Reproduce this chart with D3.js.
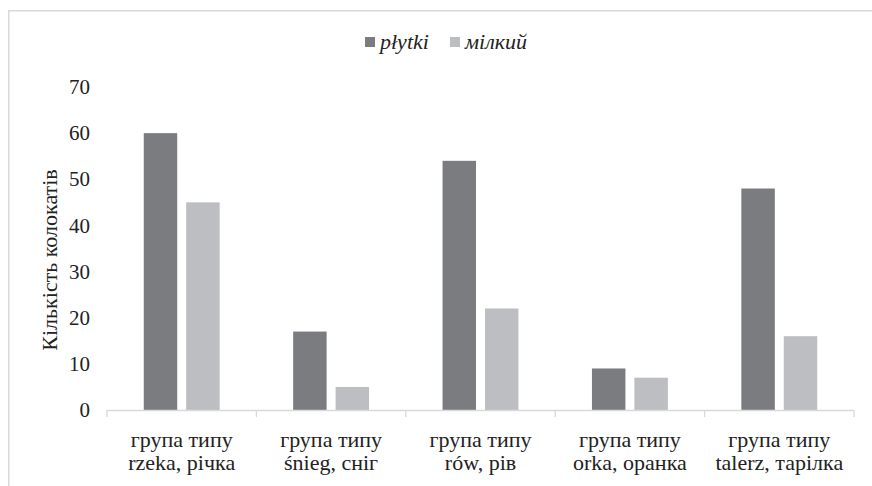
<!DOCTYPE html>
<html><head><meta charset="utf-8"><script src="https://cdn.jsdelivr.net/npm/d3@7"></script></head>
<body style="margin:0">
<svg id="chart" width="872" height="486"></svg>
<script>
// Collocate counts per word group, for the Polish and Ukrainian adjective
const groupsLine1 = ["група типу", "група типу", "група типу", "група типу", "група типу"];
const groupsLine2 = ["rzeka, річка", "śnieg, сніг", "rów, рів", "orka, оранка", "talerz, тарілка"];
const seriesNames = ["płytki", "мілкий"];
const plytki = [60, 17, 54, 9, 48];
const milkyi = [45, 5, 22, 7, 16];
const yTicks = [0, 10, 20, 30, 40, 50, 60, 70];
const yTitle = "Кількість колокатів";

// serif face for all chart text
const faces = ["Liberation Serif", "Tinos", "FreeSerif"];
const FONT = faces.map(f => `"${f}"`).join(", ") + ", monospace";
const colors = ["#7b7c80", "#bdbec2"];
const svg = d3.select("#chart");

// chart frame
svg.append("path")
  .attr("d", "M8.75,486 V10.75 H872")
  .attr("fill", "none")
  .attr("stroke", "#d9d9d9")
  .attr("stroke-width", 1.5);

const margin = { left: 107, right: 18 };
const W = 872;
const x0 = d3.scaleBand().domain(d3.range(groupsLine2.length)).range([margin.left, W - margin.right]).padding(0);
const y = d3.scaleLinear().domain([0, 70]).range([410, 87]);

const bw = x0.bandwidth();
const barW = bw * 0.224;
const gap = bw * 0.06;

[plytki, milkyi].forEach((vals, si) => {
  svg.append("g").selectAll("rect").data(vals).join("rect")
    .attr("x", (d, i) => x0(i) + bw / 2 + (si === 0 ? -gap / 2 - barW : gap / 2))
    .attr("y", d => y(d))
    .attr("width", barW)
    .attr("height", d => y(0) - y(d))
    .attr("fill", colors[si]);
});

// x axis baseline with category separators
svg.append("line")
  .attr("x1", margin.left).attr("x2", W - margin.right)
  .attr("y1", y(0) + 0.5).attr("y2", y(0) + 0.5)
  .attr("stroke", "#d9d9d9").attr("stroke-width", 1.3);
const sepX = d3.range(groupsLine2.length + 1).map(i => margin.left + i * bw);
svg.append("g").selectAll("line").data(sepX).join("line")
  .attr("x1", d => d).attr("x2", d => d)
  .attr("y1", y(0)).attr("y2", y(0) + 7)
  .attr("stroke", "#d9d9d9").attr("stroke-width", 1.3);

// category labels, two lines each
const labelRows = [];
groupsLine2.forEach((l2, i) => {
  labelRows.push({ i, k: 0, t: groupsLine1[i] });
  labelRows.push({ i, k: 1, t: l2 });
});
svg.append("g").selectAll("text").data(labelRows).join("text")
  .attr("x", d => x0(d.i) + bw / 2)
  .attr("y", d => 447 + d.k * 23)
  .attr("text-anchor", "middle")
  .attr("font-size", 22)
  .attr("fill", "#222")
  .style("font-family", FONT)
  .text(d => d.t);

// y axis tick labels (no axis line)
svg.append("g").selectAll("text").data(yTicks).join("text")
  .attr("x", 90)
  .attr("y", d => y(d))
  .attr("dy", "0.34em")
  .attr("text-anchor", "end")
  .attr("font-size", 21)
  .attr("fill", "#222")
  .style("font-family", FONT)
  .text(d => d);

svg.append("text")
  .attr("transform", "translate(57,260) rotate(-90)")
  .attr("text-anchor", "middle")
  .attr("font-size", 22)
  .attr("fill", "#222")
  .style("font-family", FONT)
  .text(yTitle);

// legend
const legX = [365, 450];
seriesNames.forEach((n, i) => {
  svg.append("rect").attr("x", legX[i]).attr("y", 37).attr("width", 10).attr("height", 10).attr("fill", colors[i]);
  svg.append("text").attr("x", legX[i] + 15).attr("y", 49)
    .attr("font-size", 22)
    .attr("font-style", "italic")
    .attr("fill", "#222")
    .style("font-family", FONT)
    .text(n);
});
</script>
</body>
</html>
